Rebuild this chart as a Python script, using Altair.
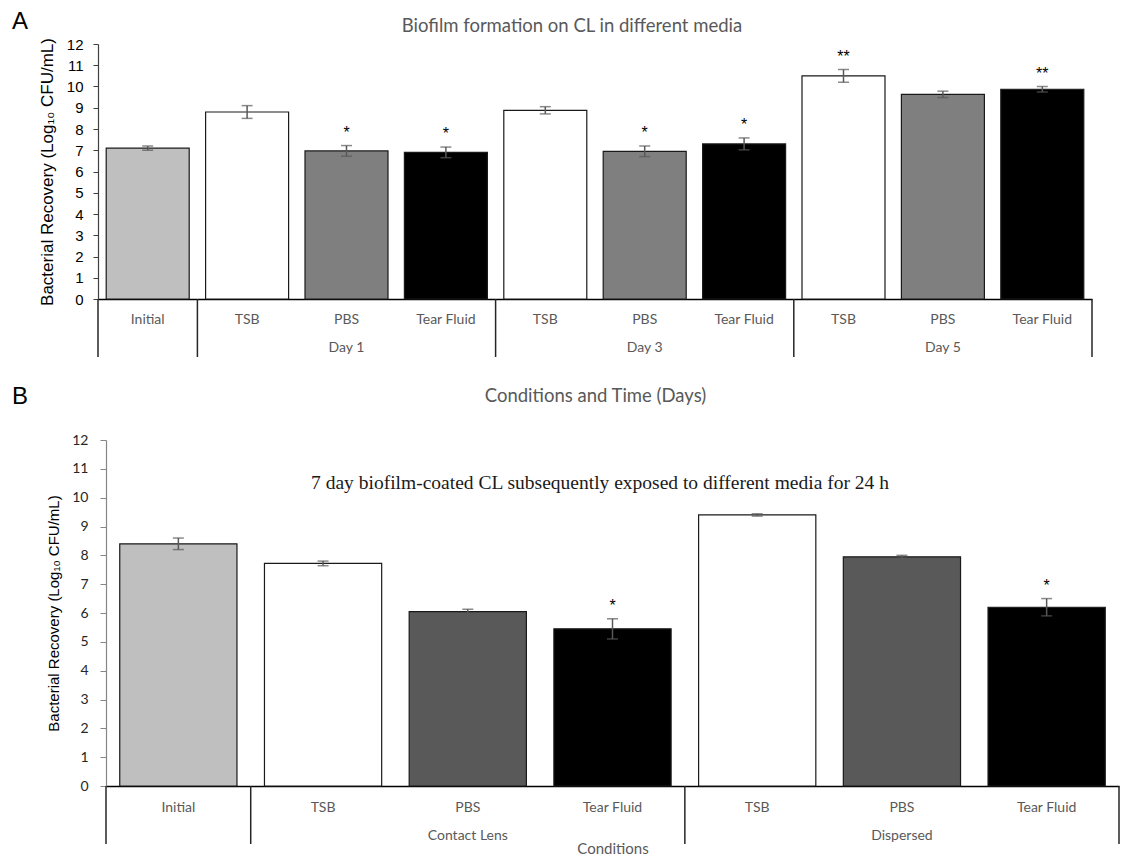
import altair as alt
import pandas as pd

# ---------------- Panel A data ----------------
a_groups = ["", "Day 1", "Day 1", "Day 1", "Day 3", "Day 3", "Day 3", "Day 5", "Day 5", "Day 5"]
a_media = ["Initial", "TSB", "PBS", "Tear Fluid", "TSB", "PBS", "Tear Fluid", "TSB", "PBS", "Tear Fluid"]
a_means = [7.10, 8.80, 6.97, 6.90, 8.88, 6.95, 7.30, 10.50, 9.63, 9.87]
a_errs = [0.10, 0.30, 0.25, 0.25, 0.17, 0.25, 0.28, 0.30, 0.15, 0.13]
a_sig = ["", "", "*", "*", "", "*", "*", "**", "", "**"]

# ---------------- Panel B data ----------------
b_groups = ["", "Contact Lens", "Contact Lens", "Contact Lens", "Dispersed", "Dispersed", "Dispersed"]
b_media = ["Initial", "TSB", "PBS", "Tear Fluid", "TSB", "PBS", "Tear Fluid"]
b_means = [8.40, 7.72, 6.05, 5.45, 9.40, 7.95, 6.20]
b_errs = [0.20, 0.08, 0.08, 0.35, 0.04, 0.05, 0.30]
b_sig = ["", "", "", "*", "", "", "*"]

y_ticks = list(range(13))
media_order = ["Initial", "TSB", "PBS", "Tear Fluid"]
a_palette = ["#bfbfbf", "#ffffff", "#7f7f7f", "#000000"]
b_palette = ["#bfbfbf", "#ffffff", "#595959", "#000000"]

y_title = "Bacterial Recovery (Log\u2081\u2080 CFU/mL)"


def panel(groups, media, means, errs, sig, palette, W, H, band, o):
    ids = [f"{i}|{m}" for i, m in enumerate(media)]
    df = pd.DataFrame({"id": ids, "medium": media, "mean": means, "err": errs, "sig": sig})

    # contiguous runs of groups
    runs = []
    for i, g in enumerate(groups):
        if runs and runs[-1][0] == g:
            runs[-1][1].append(i)
        else:
            runs.append((g, [i]))
    grp_df = pd.DataFrame({
        "id": [ids[r[1][len(r[1]) // 2]] for r in runs if r[0]],
        "group": [r[0] for r in runs if r[0]],
    })
    sep_df = pd.DataFrame({"id": [ids[r[1][0]] for r in runs]})
    end_df = pd.DataFrame({"id": [ids[-1]]})

    xaxis = alt.Axis(
        labelExpr="split(datum.label, '|')[1]", labelAngle=0, ticks=False, tickSize=0,
        labelPadding=o["lpad"], labelBaseline="middle", labelFont="Lato",
        labelFontSize=14, labelColor="#595959", domainColor="#000000", domainWidth=1.5,
        labelOverlap=False,
        title=o["xtitle"], titleFont="Lato", titleFontSize=o["xtsize"], titleFontWeight="normal",
        titleColor="#595959", titleY=o["xtitleY"], titleBaseline="middle",
    )
    xscale = alt.Scale(paddingInner=0, paddingOuter=0)
    x = alt.X("id:N", sort=ids, scale=xscale, axis=xaxis)

    yaxis = alt.Axis(
        values=y_ticks, grid=False, tickSize=o["tsize"], labelPadding=o["ypad"],
        labelOverlap=False,
        labelFont=o["yfont"], labelFontSize=o["yfsize"], labelColor=o["ycolor"],
        domainColor=o["ydom"], tickColor=o["ydom"], domainWidth=1.2,
        title=y_title, titleFont="Liberation Sans", titleFontSize=o["ytsize"],
        titleFontWeight="normal", titleColor="#000000", titleAngle=-90,
        titleX=o["ytitleX"], titleY=H / 2, titleAlign="center", titleBaseline="middle",
    )
    yscale = alt.Scale(domain=[0, 12], nice=False)

    def Y(f):
        return alt.Y(f, scale=yscale, axis=yaxis, title=y_title)

    base = alt.Chart(df).transform_calculate(lo="datum.mean - datum.err", hi="datum.mean + datum.err")

    bars = base.mark_bar(width=alt.RelativeBandSize(band), stroke="#1a1a1a", strokeWidth=1.2).encode(
        x=x, y=Y("mean:Q"),
        color=alt.Color("medium:N", scale=alt.Scale(domain=media_order, range=palette), legend=None),
    )
    err = base.mark_rule(color="#595959", strokeWidth=1.5).encode(x=x, y=Y("lo:Q"), y2="hi:Q")
    cap_lo = base.mark_tick(color="#595959", size=11, thickness=1.5).encode(x=x, y=Y("lo:Q"))
    cap_hi = base.mark_tick(color="#595959", size=11, thickness=1.5).encode(x=x, y=Y("hi:Q"))
    stars = base.mark_text(baseline="bottom", dy=-5, font="Liberation Sans", fontSize=16,
                           color="#000000").encode(x=x, y=Y("hi:Q"), text="sig:N")
    grp = alt.Chart(grp_df).mark_text(baseline="middle", font="Lato", fontSize=14,
                                      color="#595959").encode(
        x=x, y=alt.value(H + o["gpad"]), text="group:N")
    seps = alt.Chart(sep_df).mark_rule(color="#262626", strokeWidth=1.5).encode(
        x=alt.X("id:N", sort=ids, scale=xscale, axis=xaxis, bandPosition=0),
        y=alt.value(H), y2=alt.value(H + 58))
    endsep = alt.Chart(end_df).mark_rule(color="#262626", strokeWidth=1.5).encode(
        x=alt.X("id:N", sort=ids, scale=xscale, axis=xaxis, bandPosition=1),
        y=alt.value(H), y2=alt.value(H + 58))
    letter = alt.Chart(pd.DataFrame({"t": [o["letter"]]})).mark_text(
        align="left", baseline="top", font="Liberation Sans", fontSize=24, color="#000000").encode(
        x=alt.value(o["letterX"]), y=alt.value(o["letterY"]), text="t:N")
    ttl = alt.Chart(pd.DataFrame({"t": [o["title"]]})).mark_text(
        align="center", baseline="middle", font=o["tfont"], fontSize=o["tsz"], color=o["tcolor"]).encode(
        x=alt.value(o["titleX"]), y=alt.value(o["titleY"]), text="t:N")

    return alt.layer(bars, err, cap_lo, cap_hi, stars, grp, seps, endsep, letter, ttl).properties(
        width=W, height=H)


chart_a = panel(a_groups, a_media, a_means, a_errs, a_sig, a_palette, 994, 255, 0.835, dict(
    lpad=20, xtitle="Conditions and Time (Days)", xtsize=18.5, xtitleY=96, tsize=5, ypad=10,
    yfont="Liberation Sans", yfsize=15, ycolor="#000000", ydom="#404040", ytsize=17, ytitleX=-51,
    gpad=49, letter="A", letterX=-86, letterY=-34,
    title="Biofilm formation on CL in different media", tfont="Lato", tsz=18.5, tcolor="#595959",
    titleX=474, titleY=-18,
))

chart_b = panel(b_groups, b_media, b_means, b_errs, b_sig, b_palette, 1013, 346, 0.81, dict(
    lpad=21, xtitle="Conditions", xtsize=15, xtitleY=62, tsize=6, ypad=12,
    yfont="Lato", yfsize=14, ycolor="#262626", ydom="#868686", ytsize=15, ytitleX=-53,
    gpad=50, letter="B", letterX=-94, letterY=-55,
    title="7 day biofilm-coated CL subsequently exposed to different media for 24 h",
    tfont="Liberation Serif", tsz=19.5, tcolor="#1a1a1a", titleX=494, titleY=43,
))

spacer = alt.Chart(pd.DataFrame({"s": [0]})).mark_point(opacity=0).encode(
    x=alt.value(0), y=alt.value(0)).properties(width=8, height=346)

row_b = alt.hconcat(spacer, chart_b, spacing=0, bounds="flush")

chart = alt.vconcat(chart_a, row_b, spacing=141, bounds="flush").resolve_scale(
    x="independent", y="independent", color="independent"
).configure_view(stroke=None).properties(
    padding={"left": 4, "top": 2, "right": 0, "bottom": 0}
)

chart.save("out.html", embed_options={"renderer": "svg", "actions": False})
